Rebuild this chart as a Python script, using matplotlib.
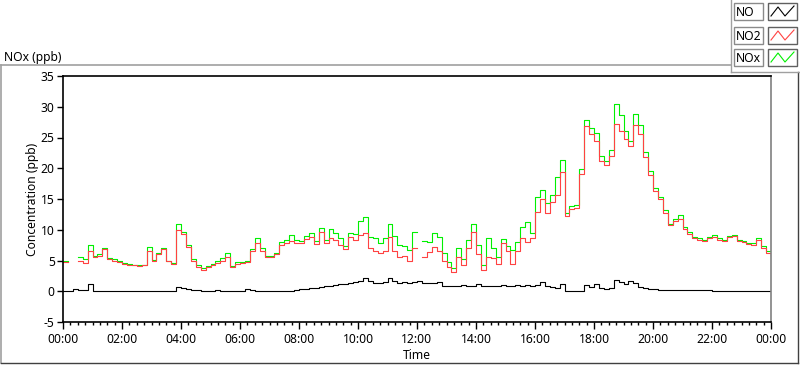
import numpy as np
import matplotlib
matplotlib.use("Agg")
import matplotlib.pyplot as plt
from matplotlib.patches import Rectangle
from matplotlib.lines import Line2D

plt.rcParams['font.family'] = ['Noto Sans', 'DejaVu Sans']

nan = np.nan
# time in minutes since midnight, 10-minute resolution (145 samples incl. 24:00)
minutes = list(range(0, 1441, 10))

no2 = [
    4.7, nan, nan, 5.0, 4.6, 6.5,
    5.6, 5.8, 6.9, 5.2, 5.0, 4.8,
    4.5, 4.3, 4.2, 4.1, 4.2, 6.6,
    5.0, 6.0, 6.8, 4.9, 4.5, 10.0,
    9.3, 7.2, 5.0, 4.0, 3.5, 3.9,
    4.2, 4.6, 5.0, 5.6, 3.9, 4.5,
    4.6, 4.8, 6.5, 7.8, 6.6, 5.6,
    5.6, 6.0, 7.6, 7.9, 8.2, 7.8,
    7.8, 8.5, 8.8, 7.7, 9.6, 7.8,
    8.6, 8.3, 7.6, 6.8, 8.9, 8.4,
    9.1, 9.4, 7.0, 6.5, 6.3, 6.6,
    8.8, 6.6, 5.5, 5.7, 5.0, 7.0,
    nan, 5.6, 6.4, 7.2, 6.5, 5.0,
    3.9, 3.2, 5.6, 4.2, 7.0, 9.6,
    6.1, 3.4, 5.6, 5.4, 4.5, 7.8,
    6.6, 4.5, 6.5, 8.6, 8.0, 8.6,
    12.9, 15.0, 12.8, 14.5, 15.6, 19.4,
    12.2, 13.4, 13.6, 19.0, 26.8, 25.5,
    24.5, 21.2, 20.5, 22.0, 27.2, 26.0,
    24.8, 23.6, 27.0, 25.5, 21.8, 18.9,
    16.3, 15.0, 12.8, 10.7, 11.5, 11.8,
    10.2, 9.3, 8.6, 8.4, 8.1, 8.6,
    8.9, 8.4, 8.2, 8.8, 9.0, 8.1,
    8.0, 7.7, 7.6, 8.4, 7.1, 6.3,
    5.7,
]

nox = [
    4.9, nan, nan, 5.5, 5.2, 7.5,
    5.8, 6.0, 7.1, 5.4, 5.2, 5.0,
    4.6, 4.4, 4.3, 4.2, 4.3, 7.2,
    5.1, 6.2, 7.0, 5.0, 4.6, 10.9,
    9.7, 7.5, 5.2, 4.3, 3.8, 4.1,
    4.4, 4.9, 5.4, 6.3, 4.1, 4.7,
    4.8, 5.0, 6.8, 8.6, 7.0, 5.8,
    5.8, 6.2, 8.0, 8.4, 9.1, 8.3,
    8.1, 9.0, 9.4, 8.2, 10.3, 8.3,
    10.2, 9.4, 8.6, 7.4, 9.4, 9.3,
    11.4, 12.0, 8.9, 8.6, 7.9, 8.6,
    11.0, 9.0, 7.6, 7.4, 6.7, 9.6,
    nan, 8.2, 8.0, 9.4, 8.8, 6.3,
    4.8, 3.8, 7.0, 5.2, 8.3, 11.0,
    7.6, 4.2, 8.6, 7.0, 5.6, 8.5,
    7.3, 6.7, 8.0, 10.4, 11.3, 9.4,
    15.3, 16.4, 14.4, 15.6, 18.6, 21.3,
    12.8, 13.8, 14.0, 19.8, 27.9, 26.6,
    25.8, 22.0, 21.2, 23.0, 30.4, 28.7,
    26.0, 24.5, 28.9, 27.0, 22.6, 19.5,
    16.8, 15.4, 13.2, 11.0, 11.8, 12.4,
    10.5, 9.6, 8.8, 8.6, 8.3, 8.8,
    9.1, 8.6, 8.4, 9.0, 9.2, 8.3,
    8.2, 7.9, 7.8, 8.6, 7.3, 6.5,
    5.9,
]

no = [
    0.0, 0.0, 0.4, 0.2, 0.2, 1.2,
    0.1, 0.0, 0.0, 0.0, 0.0, 0.0,
    0.0, 0.0, 0.05, 0.1, 0.1, 0.0,
    0.0, 0.0, 0.05, 0.0, 0.1, 0.7,
    0.5, 0.3, 0.2, 0.15, 0.1, 0.1,
    0.1, 0.15, 0.1, 0.1, 0.1, 0.1,
    0.1, 0.35, 0.2, 0.05, 0.0, 0.0,
    0.05, 0.1, 0.05, 0.1, 0.05, 0.2,
    0.3, 0.35, 0.5, 0.5, 0.7, 0.8,
    0.9, 1.0, 1.2, 1.2, 1.3, 1.5,
    1.6, 2.2, 1.7, 1.4, 1.3, 1.5,
    2.1, 1.6, 1.4, 1.5, 1.3, 1.5,
    1.6, 1.3, 1.4, 1.3, 1.5, 0.9,
    0.8, 0.9, 0.8, 1.0, 0.9, 0.9,
    1.1, 0.8, 0.9, 0.8, 0.9, 1.0,
    0.9, 0.8, 1.0, 0.9, 1.0, 0.8,
    1.0, 1.5, 0.8, 0.7, 0.5, 1.1,
    0.1, 0.05, 0.1, 0.1, 1.0, 0.7,
    1.1, 0.5, 0.4, 0.5, 1.9, 1.5,
    1.1, 1.6, 1.4, 0.7, 0.6, 0.3,
    0.3, 0.25, 0.2, 0.2, 0.15, 0.2,
    0.15, 0.2, 0.2, 0.2, 0.15, 0.2,
    0.1, 0.1, 0.1, 0.1, 0.1, 0.05,
    0.05, 0.05, 0.05, 0.0, 0.0, 0.0,
    0.0,
]

series_names = ["NO", "NO2", "NOx"]
x_tick_minutes = list(range(0, 1441, 120))
x_tick_labels = ["00:00", "02:00", "04:00", "06:00", "08:00", "10:00", "12:00",
                 "14:00", "16:00", "18:00", "20:00", "22:00", "00:00"]
y_ticks = [-5, 0, 5, 10, 15, 20, 25, 30, 35]

RED = "#ff4242"
GREEN = "#00f000"
BLACK = "#000000"

W, H = 800, 365
fig = plt.figure(figsize=(W / 100, H / 100), dpi=100)

def fx(px):
    return px / W

def fy(py):
    return 1 - py / H

# outer frame
fig.add_artist(Line2D([fx(0.5), fx(731)], [fy(65), fy(65)], color="#a0a0a0", lw=1.2))
fig.add_artist(Line2D([fx(0.5), fx(0.5)], [fy(65), fy(363)], color="#a0a0a0", lw=1.2))
fig.add_artist(Line2D([fx(0.5), fx(798)], [fy(363), fy(363)], color="#404040", lw=1.0))
fig.add_artist(Line2D([fx(798), fx(798)], [fy(72), fy(363)], color="#404040", lw=1.0))
# legend panel frame
fig.add_artist(Line2D([fx(731), fx(731)], [fy(0), fy(72)], color="#a0a0a0", lw=1.0))
fig.add_artist(Line2D([fx(731), fx(799)], [fy(72), fy(72)], color="#a0a0a0", lw=1.0))

fig.text(fx(4), fy(57), "NOx (ppb)", fontsize=8.7, va="center", ha="left", color="#000000")

# legend rows
leg_colors = [BLACK, RED, GREEN]
row_tops = [3, 27, 49]
for name, col, top in zip(series_names, leg_colors, row_tops):
    h = 17
    fig.add_artist(Rectangle((fx(734), fy(top + h)), fx(29), h / H,
                             facecolor="white", edgecolor="#8a8a8a", lw=1.0))
    fig.text(fx(736), fy(top + h / 2 + 0.5), name, fontsize=8.7, va="center", ha="left")
    fig.add_artist(Rectangle((fx(768), fy(top + h)), fx(29), h / H,
                             facecolor="white", edgecolor="#606060", lw=1.0))
    fig.add_artist(Line2D([fx(v) for v in [771, 778, 785, 794]],
                          [fy(v) for v in [top + 13, top + 4, top + 13, top + 3]],
                          color=col, lw=0.8))

ax = fig.add_axes([fx(63), fy(322), fx(771 - 63), (322 - 76) / H])
t = np.array(minutes, dtype=float)
ax.plot(t, nox, color=GREEN, lw=0.8, drawstyle="steps-post")
ax.plot(t, no2, color=RED, lw=0.8, drawstyle="steps-post")
ax.plot(t, no, color=BLACK, lw=0.8, drawstyle="steps-post")

ax.set_xlim(0, 1440)
ax.set_ylim(-5, 35)
ax.set_yticks(y_ticks)
ax.set_yticklabels([str(v) for v in y_ticks])
ax.set_xticks(x_tick_minutes)
ax.set_xticklabels(x_tick_labels)
ax.set_xticks(list(range(0, 1441, 15)), minor=True)
ax.tick_params(axis="y", direction="out", length=4, width=1, pad=2, labelsize=8.7, colors="#000000")
ax.tick_params(axis="x", which="major", direction="out", length=5, width=1, pad=3, labelsize=8.7)
ax.tick_params(axis="x", which="minor", direction="out", length=2.5, width=1)
for s in ["left", "bottom", "top"]:
    ax.spines[s].set_color("#000000")
    ax.spines[s].set_linewidth(1.2)
ax.spines["right"].set_color("#808080")
ax.spines["right"].set_linewidth(1.2)

ax.set_xlabel("Time", fontsize=8.7, labelpad=2)
ax.set_ylabel("Concentration (ppb)", fontsize=8.7, labelpad=1.5)

fig.savefig("out.png", dpi=100)
